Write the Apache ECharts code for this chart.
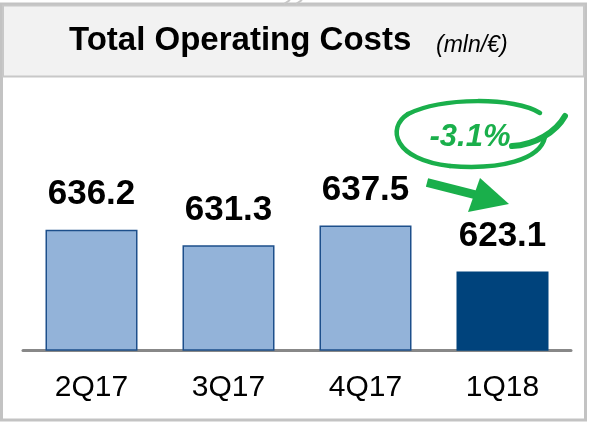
<!DOCTYPE html>
<html>
<head>
<meta charset="utf-8">
<script src="https://cdn.jsdelivr.net/npm/echarts@6/dist/echarts.min.js"></script>
<style>
  html, body { margin: 0; padding: 0; background: #fff; }
  #chart { width: 589px; height: 422px; }
</style>
</head>
<body>
<div id="chart"></div>
<script>
// quarters and costs (mln/€)
var categories = ['2Q17', '3Q17', '4Q17', '1Q18'];
var values = [636.2, 631.3, 637.5, 623.1];
var changeLabel = '-3.1%';

var font = "'Liberation Sans', Arial, sans-serif";
var green = '#1aaf4b';

var chart = echarts.init(document.getElementById('chart'));

var barData = values.map(function (v, i) {
  var last = i === values.length - 1;
  return {
    value: v,
    itemStyle: {
      color: last ? '#00437c' : '#93b3d9',
      borderColor: last ? '#00437c' : '#1d4f8b',
      borderWidth: 1.5
    }
  };
});

// bezier helper for the hand-drawn ring
function curve(p, w) {
  return {
    type: 'bezierCurve', z: 10,
    shape: { x1: p[0], y1: p[1], cpx1: p[2], cpy1: p[3], cpx2: p[4], cpy2: p[5], x2: p[6], y2: p[7] },
    style: { fill: null, stroke: green, lineWidth: w, lineCap: 'round' }
  };
}

chart.setOption({
  animation: false,
  title: [{
    text: 'Total Operating Costs',
    left: 64,
    top: 19,
    textStyle: { fontFamily: font, fontSize: 33, fontWeight: 'bold', color: '#000' }
  }, {
    text: '(mln/€)',
    left: 431,
    top: 29,
    textStyle: { fontFamily: font, fontSize: 23, fontStyle: 'italic', fontWeight: 'normal', color: '#000' }
  }],
  grid: { left: 23, right: 18, top: 216, bottom: 72 },
  xAxis: {
    type: 'category',
    data: categories,
    axisLine: { lineStyle: { color: '#888', width: 3 } },
    axisTick: { show: false },
    axisLabel: { fontFamily: font, fontSize: 30, color: '#000', margin: 23 }
  },
  yAxis: {
    type: 'value',
    min: 598.5,
    max: 640.5,
    show: false
  },
  series: [{
    type: 'bar',
    barWidth: 92,
    data: barData,
    z: 3,
    label: {
      show: true,
      position: 'top',
      distance: 18,
      fontFamily: font,
      fontSize: 35,
      fontWeight: 'bold',
      color: '#000',
      formatter: function (p) { return p.value.toFixed(1); }
    }
  }],
  graphic: [
    // outer frame
    {
      type: 'rect', z: -10,
      shape: { x: 1.5, y: 4, width: 584, height: 416 },
      style: { fill: '#fff', stroke: '#c3c3c3', lineWidth: 3 }
    },
    // title band
    {
      type: 'rect', z: -9,
      shape: { x: 3, y: 5.5, width: 581, height: 71 },
      style: { fill: '#f2f2f2', stroke: '#c8c8c8', lineWidth: 2 }
    },
    // small slanted marks at top edge
    {
      type: 'line', z: -8,
      shape: { x1: 284, y1: 4, x2: 290, y2: 0 },
      style: { stroke: '#c8c8c8', lineWidth: 2 }
    },
    {
      type: 'line', z: -8,
      shape: { x1: 296, y1: 4, x2: 302, y2: 0 },
      style: { stroke: '#c8c8c8', lineWidth: 2 }
    },
    // hand-drawn ring
    curve([540, 113, 515, 97, 442, 97, 408, 114], 4.5),
    curve([408, 114, 386, 128, 394, 160, 450, 166], 4.5),
    curve([450, 166, 500, 170, 540, 160, 545, 137], 4.5),
    curve([512, 146, 535, 145, 556, 132, 565, 116], 6),
    {
      type: 'text', z: 11,
      style: {
        x: 470, y: 137, text: changeLabel,
        font: 'italic bold 31px ' + font,
        fill: green, align: 'center', verticalAlign: 'middle'
      }
    },
    // arrow
    {
      type: 'line', z: 10,
      shape: { x1: 427, y1: 182.5, x2: 488, y2: 198 },
      style: { stroke: green, lineWidth: 9 }
    },
    {
      type: 'polygon', z: 10,
      shape: { points: [[480, 178], [509, 204], [468, 212]] },
      style: { fill: green }
    }
  ]
});
</script>
</body>
</html>
